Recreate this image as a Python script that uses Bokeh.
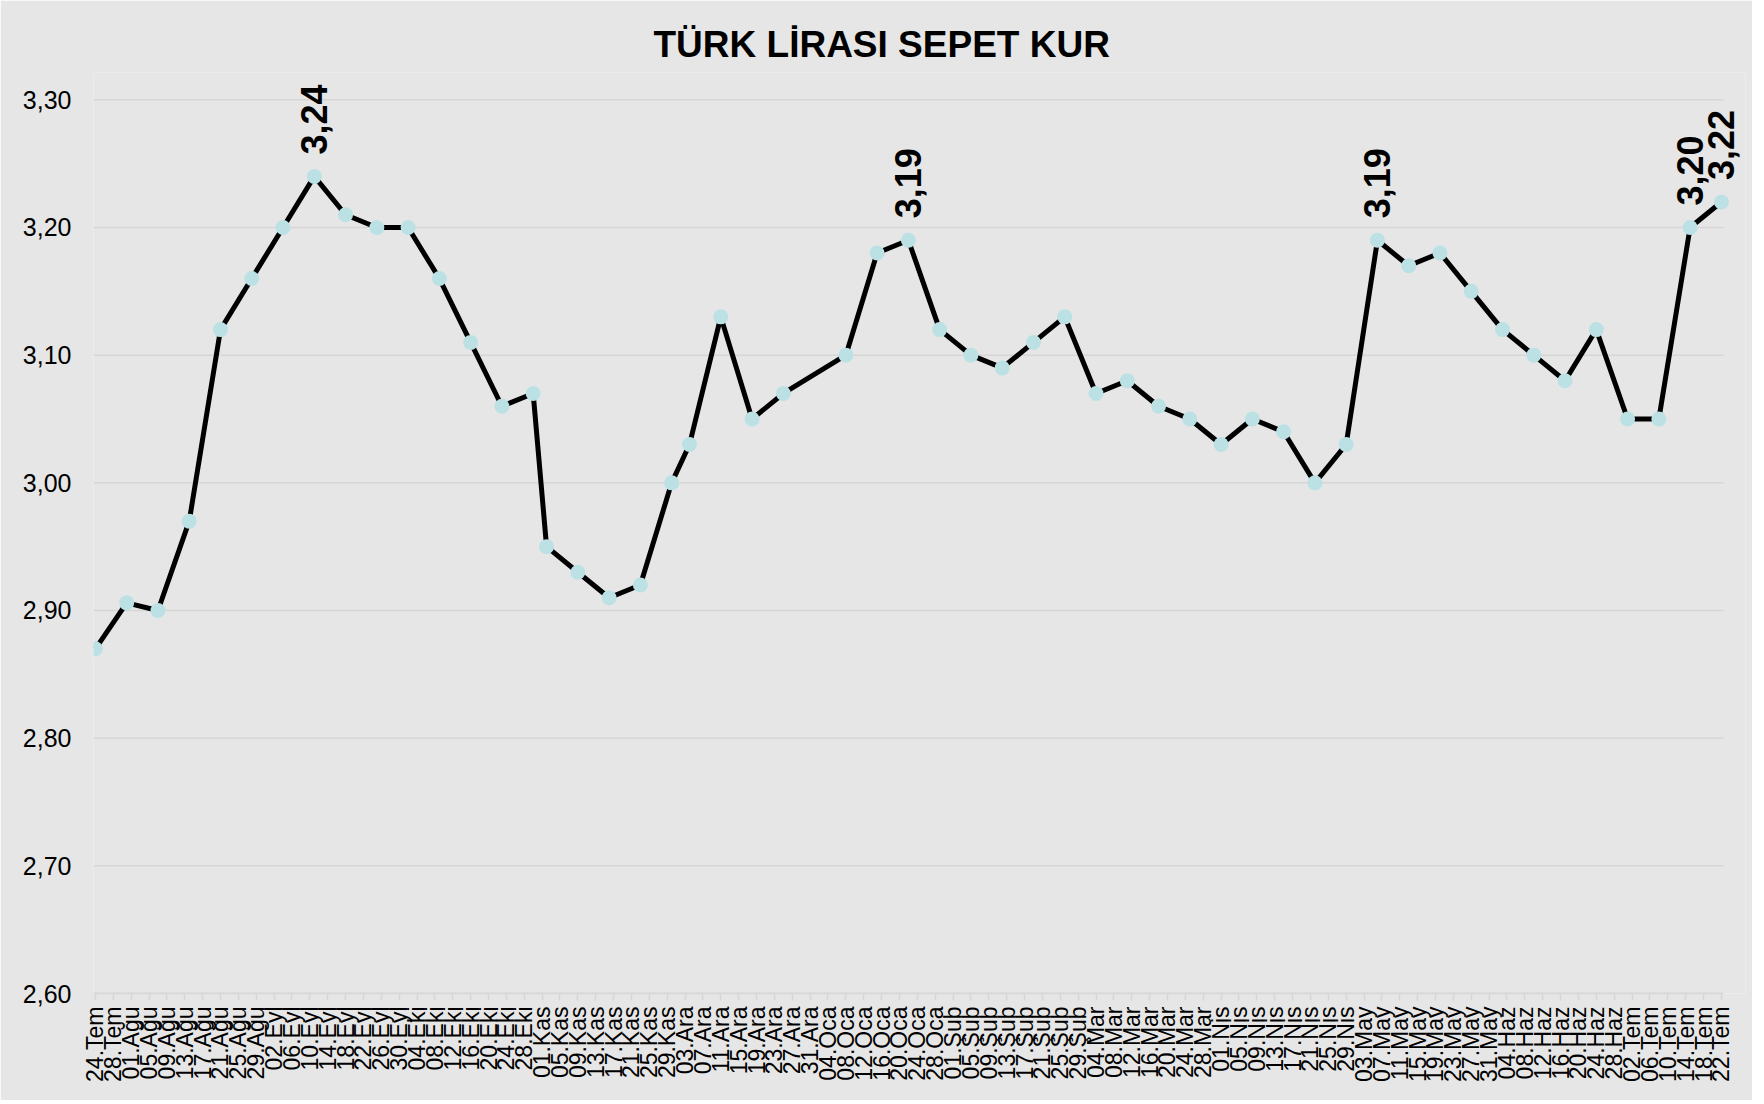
from datetime import date
from math import pi

from bokeh.plotting import figure
from bokeh.models import ColumnDataSource, FixedTicker, LabelSet, Range1d
from bokeh.core.properties import value
from bokeh.embed import file_html
from bokeh.resources import INLINE

# ---------------- data ----------------
TITLE = "TÜRK LİRASI SEPET KUR"

dates = ["2015-07-24", "2015-07-31", "2015-08-07", "2015-08-14", "2015-08-21", "2015-08-28",
         "2015-09-04", "2015-09-11", "2015-09-18", "2015-09-25", "2015-10-02", "2015-10-09",
         "2015-10-16", "2015-10-23", "2015-10-30", "2015-11-02", "2015-11-09", "2015-11-16",
         "2015-11-23", "2015-11-30", "2015-12-04", "2015-12-11", "2015-12-18", "2015-12-25",
         "2016-01-08", "2016-01-15", "2016-01-22", "2016-01-29", "2016-02-05", "2016-02-12",
         "2016-02-19", "2016-02-26", "2016-03-04", "2016-03-11", "2016-03-18", "2016-03-25",
         "2016-04-01", "2016-04-08", "2016-04-15", "2016-04-22", "2016-04-29", "2016-05-06",
         "2016-05-13", "2016-05-20", "2016-05-27", "2016-06-03", "2016-06-10", "2016-06-17",
         "2016-06-24", "2016-07-01", "2016-07-08", "2016-07-15", "2016-07-22"]

values = [2.87, 2.906, 2.90, 2.97, 3.12, 3.16, 3.20, 3.24, 3.21, 3.20,
          3.20, 3.16, 3.11, 3.06, 3.07, 2.95, 2.93, 2.91, 2.92, 3.00,
          3.03, 3.13, 3.05, 3.07, 3.10, 3.18, 3.19, 3.12, 3.10, 3.09,
          3.11, 3.13, 3.07, 3.08, 3.06, 3.05, 3.03, 3.05, 3.04, 3.00,
          3.03, 3.19, 3.17, 3.18, 3.15, 3.12, 3.10, 3.08, 3.12, 3.05,
          3.05, 3.20, 3.22]

labelled_dates = ["2015-09-11", "2016-01-22", "2016-05-06", "2016-07-15", "2016-07-22"]

tick_labels = ["24.Tem", "28.Tem",
               "01.Ağu", "05.Ağu", "09.Ağu", "13.Ağu", "17.Ağu", "21.Ağu", "25.Ağu", "29.Ağu",
               "02.Eyl", "06.Eyl", "10.Eyl", "14.Eyl", "18.Eyl", "22.Eyl", "26.Eyl", "30.Eyl",
               "04.Eki", "08.Eki", "12.Eki", "16.Eki", "20.Eki", "24.Eki", "28.Eki",
               "01.Kas", "05.Kas", "09.Kas", "13.Kas", "17.Kas", "21.Kas", "25.Kas", "29.Kas",
               "03.Ara", "07.Ara", "11.Ara", "15.Ara", "19.Ara", "23.Ara", "27.Ara", "31.Ara",
               "04.Oca", "08.Oca", "12.Oca", "16.Oca", "20.Oca", "24.Oca", "28.Oca",
               "01.Şub", "05.Şub", "09.Şub", "13.Şub", "17.Şub", "21.Şub", "25.Şub", "29.Şub",
               "04.Mar", "08.Mar", "12.Mar", "16.Mar", "20.Mar", "24.Mar", "28.Mar",
               "01.Nis", "05.Nis", "09.Nis", "13.Nis", "17.Nis", "21.Nis", "25.Nis", "29.Nis",
               "03.May", "07.May", "11.May", "15.May", "19.May", "23.May", "27.May", "31.May",
               "04.Haz", "08.Haz", "12.Haz", "16.Haz", "20.Haz", "24.Haz", "28.Haz",
               "02.Tem", "06.Tem", "10.Tem", "14.Tem", "18.Tem", "22.Tem"]
TICK_STEP_DAYS = 4

y_ticks = [2.6, 2.7, 2.8, 2.9, 3.0, 3.1, 3.2, 3.3]

# ---------------- derived ----------------
start = date.fromisoformat(dates[0])
days = [(date.fromisoformat(d) - start).days for d in dates]
tick_pos = [i * TICK_STEP_DAYS for i in range(len(tick_labels))]

lab_idx = [dates.index(d) for d in labelled_dates]
lab_src = ColumnDataSource(dict(
    x=[days[i] for i in lab_idx],
    y=[values[i] for i in lab_idx],
    text=[f"{values[i]:.2f}".replace(".", ",") for i in lab_idx],
))

BG = "#E6E6E6"
GRID = "#D6D6D6"
FONT = "Liberation Sans"

x_lo = tick_pos[0] - 0.43
x_hi = tick_pos[-1] + 0.45
x_frame_hi = tick_pos[-1] + 5.4  # extra room so the last rotated label is not clipped

p = figure(width=1752, height=1100, output_backend="svg", toolbar_location=None,
           x_range=Range1d(x_lo, x_frame_hi), y_range=Range1d(2.6, 3.3214),
           min_border_left=93, min_border_right=7, min_border_top=72, min_border_bottom=107)

p.title.text = TITLE
p.title.align = "left"
p.title.text_font = FONT
p.title.text_font_size = "37px"
p.title.text_font_style = "bold"
p.title.text_color = "black"
p.title.offset = 560
p.title.standoff = 16

p.background_fill_color = BG
p.border_fill_color = BG
p.outline_line_color = None

# axes
p.xaxis.ticker = FixedTicker(ticks=tick_pos)
p.xaxis.bounds = (x_lo, x_hi)
p.xaxis.major_label_overrides = {t: l for t, l in zip(tick_pos, tick_labels)}
p.xaxis.major_label_orientation = pi / 2
p.xaxis.major_label_text_font = FONT
p.xaxis.major_label_text_font_size = "23px"
p.xaxis.major_label_text_color = "black"
p.xaxis.axis_line_color = GRID
p.xaxis.axis_line_width = 1.5
p.xaxis.major_tick_line_color = GRID
p.xaxis.major_tick_line_width = 1.5
p.xaxis.major_tick_out = 7
p.xaxis.major_tick_in = 0
p.xaxis.minor_tick_line_color = None
p.xaxis.major_label_standoff = 6

p.yaxis.ticker = FixedTicker(ticks=y_ticks)
p.yaxis.major_label_overrides = {t: f"{t:.2f}".replace(".", ",") for t in y_ticks}
p.yaxis.major_label_text_font = FONT
p.yaxis.major_label_text_font_size = "25px"
p.yaxis.major_label_text_color = "black"
p.yaxis.axis_line_color = None
p.yaxis.major_tick_line_color = None
p.yaxis.minor_tick_line_color = None
p.yaxis.major_label_standoff = 16

p.xgrid.grid_line_color = None
p.ygrid.grid_line_color = None

# horizontal gridlines limited to the data span of the date axis
p.segment(x0=[x_lo] * len(y_ticks), x1=[x_hi] * len(y_ticks), y0=y_ticks, y1=y_ticks,
          line_color=GRID, line_width=1.5)

src = ColumnDataSource(dict(x=days, y=values))
p.line("x", "y", source=src, line_color="black", line_width=5, line_join="round")
p.scatter("x", "y", source=src, size=15, fill_color="#BBE1E5", line_color=None)

labels = LabelSet(x="x", y="y", text="text", source=lab_src, angle=pi / 2,
                  text_align="left", text_baseline="middle", y_offset=22,
                  text_font=value(FONT), text_font_size=value("36px"),
                  text_font_style="bold", text_color="black")
p.add_layout(labels)

open("out.html", "w").write(file_html(p, INLINE))
